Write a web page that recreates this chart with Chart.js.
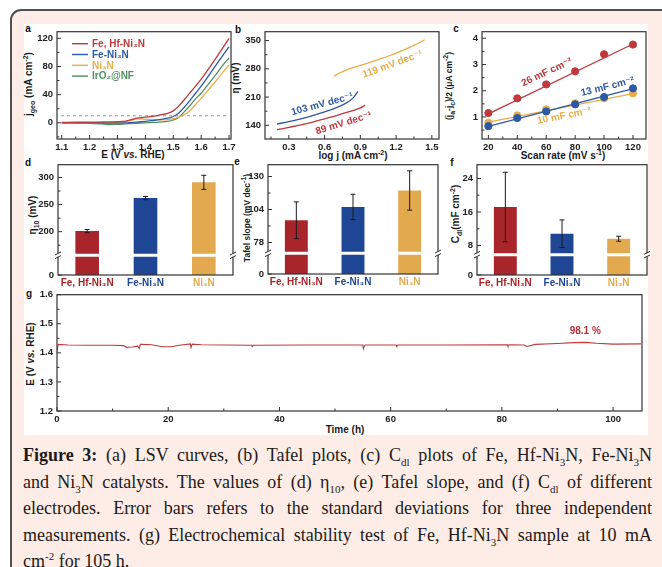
<!DOCTYPE html>
<html><head><meta charset="utf-8">
<script src="https://cdn.jsdelivr.net/npm/chart.js@4.4.1/dist/chart.umd.min.js"></script>
<style>
html,body{margin:0;padding:0;width:662px;height:567px;overflow:hidden;background:#fff;position:relative;}
#frame{position:absolute;left:10px;top:9px;width:720px;height:640px;border:2px solid #505050;border-radius:11px;background:#fdede6;box-sizing:border-box;}
#fig{position:absolute;left:24px;top:24px;width:624px;height:411px;background:#fff;}
canvas{position:absolute;}
.lbl{position:absolute;font:bold 10px "Liberation Sans",Arial,sans-serif;color:#1a1a1a;transform:translate(-50%,-50%);white-space:nowrap;line-height:12px;}
.rot{transform:translate(-50%,-50%) rotate(-90deg);}
.lbl sub,.lbl sup{font-size:7px;line-height:0;}
.sm{font-size:8.5px;}
.pl{position:absolute;font:bold 10px "Liberation Sans",Arial,sans-serif;color:#111;transform:translate(-50%,-50%);}
#cap{position:absolute;left:23px;top:442px;width:629px;font-family:"Liberation Serif","Times New Roman",serif;font-size:18px;color:#1d1a1b;}
#cap div{height:26.5px;line-height:26.5px;text-align:justify;text-align-last:justify;white-space:nowrap;}
#cap div.last{text-align-last:left;}
#cap sub,#cap sup{font-size:11px;line-height:0;}
</style>
</head><body>
<div id="frame"></div>
<div id="fig"></div>

<div class="pl" style="left:28px;top:28px">a</div>
<div class="pl" style="left:238px;top:29px">b</div>
<div class="pl" style="left:456px;top:28px">c</div>
<div class="pl" style="left:28px;top:162px">d</div>
<div class="pl" style="left:237px;top:161px">e</div>
<div class="pl" style="left:452px;top:162px">f</div>
<div class="pl" style="left:29px;top:293px">g</div>

<div class="lbl rot" style="left:29px;top:84px">j<sub>geo</sub> (mA cm<sup>-2</sup>)</div>
<div class="lbl" style="left:133px;top:155px">E (V <i>vs.</i> RHE)</div>
<div class="lbl rot" style="left:236px;top:78px">η (mV)</div>
<div class="lbl" style="left:353px;top:156px">log j (mA cm<sup>-2</sup>)</div>
<div class="lbl rot sm" style="left:449px;top:86px">(j<sub>a</sub>-j<sub>c</sub>)/2 (μA cm<sup>-2</sup>)</div>
<div class="lbl" style="left:563px;top:156px">Scan rate (mV s<sup>-1</sup>)</div>
<div class="lbl rot" style="left:33px;top:215px">η<sub>10</sub> (mV)</div>
<div class="lbl rot sm" style="left:247px;top:218px">Tafel slope (mV dec<sup>-1</sup>)</div>
<div class="lbl rot" style="left:456px;top:214px">C<sub>dl</sub>(mF cm<sup>-2</sup>)</div>
<div class="lbl rot" style="left:31px;top:354px">E (V <i>vs.</i> RHE)</div>
<div class="lbl" style="left:345px;top:430px">Time (h)</div>

<div id="cap">
<div><b>Figure 3:</b> (a) LSV curves, (b) Tafel plots, (c) C<sub>dl</sub> plots of Fe, Hf-Ni<sub>3</sub>N, Fe-Ni<sub>3</sub>N</div>
<div>and Ni<sub>3</sub>N catalysts. The values of (d) η<sub>10</sub>, (e) Tafel slope, and (f) C<sub>dl</sub> of different</div>
<div>electrodes. Error bars refers to the standard deviations for three independent</div>
<div>measurements. (g) Electrochemical stability test of Fe, Hf-Ni<sub>3</sub>N sample at 10 mA</div>
<div class="last">cm<sup>-2</sup> for 105 h.</div>
</div>

<script>
// ---------- data ----------
const seriesNames = ['Fe, Hf-Ni₃N', 'Fe-Ni₃N', 'Ni₃N', 'IrO₂@NF'];
const barNames = ['Fe, Hf-Ni₃N', 'Fe-Ni₃N', 'Ni₃N'];

// (a) LSV
const lsvE      = [1.10,1.15,1.20,1.25,1.27,1.30,1.33,1.35,1.37,1.40,1.43,1.45,1.48,1.50,1.52,1.55,1.58,1.60,1.62,1.65,1.68,1.70];
const lsvFeHf   = [0.5,0.8,1.0,1.2,1.3,1.6,2.5,4.5,6.5,8.0,9.5,11,13.5,17,24,38,52,62,73,90,108,120];
const lsvFe     = [0,0,0,-0.3,-0.5,-0.5,0,0.5,1,2,3.5,4.5,6.5,9,14,27,42,52,63,80,97,108];
const lsvNi     = [0,0,0,0,0,0.3,1.5,3.5,5.5,5,4.5,4.2,4.5,6,8,14,26,35,44,58,73,82];
const lsvIr     = [0,-0.2,-0.6,-1.8,-2.5,-2.2,-1.5,-1,-0.6,0,0.5,1,2,4,8,20,34,42,52,67,83,92];
const lsvRef    = 10;
const lsvTicksX = [1.1,1.2,1.3,1.4,1.5,1.6,1.7];
const lsvTicksY = [0,40,80,120];

// (b) Tafel
const tafFeHfX = [0.20,0.30,0.40,0.50,0.60,0.70,0.80,0.90,0.94];
const tafFeHfY = [129,135,141,148,156,164,173,183,190];
const tafFeX   = [0.20,0.30,0.40,0.50,0.60,0.70,0.78,0.84,0.88];
const tafFeY   = [143,149,156,164,173,184,195,208,224];
const tafNiX   = [0.68,0.72,0.78,0.85,0.95,1.05,1.15,1.25,1.35,1.44];
const tafNiY   = [261,269,277,284,293,303,313,325,338,352];
const tafTicksX = [0.3,0.6,0.9,1.2,1.5];
const tafTicksY = [140,210,280,350];
const tafNotes = [
  {x:0.58, y:192, t:'103 mV dec⁻¹', s:1, r:-15},
  {x:0.76, y:145, t:'89 mV dec⁻¹',  s:0, r:-17},
  {x:1.17, y:291, t:'119 mV dec⁻¹', s:2, r:-20}
];

// (c) Cdl
const scanRate = [20,40,60,80,100,120];
const cdlFeHf  = [1.15,1.71,2.24,2.74,3.39,3.76];
const cdlFe    = [0.65,0.96,1.21,1.48,1.76,2.09];
const cdlNi    = [0.78,1.06,1.29,1.52,1.71,1.90];
const cdlFitX     = [20,120];
const cdlFitFeHf  = [1.12,3.78];
const cdlFitFe    = [0.64,2.08];
const cdlFitNi    = [0.80,1.89];
const cdlTicksX = [20,40,60,80,100,120];
const cdlTicksY = [1,2,3,4];
const cdlNotes = [
  {x:60.4, y:2.70, t:'26 mF cm⁻²', s:0, r:-25},
  {x:102.4, y:2.15, t:'13 mF cm⁻²', s:1, r:-14},
  {x:72.4, y:1.04, t:'10 mF cm⁻²', s:2, r:-11}
];

// (d) eta10, (e) Tafel slope, (f) Cdl  (value, std)
const eta10     = [201, 262, 291];
const eta10Err  = [3, 3, 13];
const eta10Ticks = [200,250,300];
const tafel     = [95.5, 106, 119];
const tafelErr  = [14.5, 10, 15.5];
const tafelTicks = [78,104,130];
const cdl       = [17.2, 10.8, 9.6];
const cdlErr    = [8.3, 3.3, 0.6];
const cdlTicks  = [8,16,24];

// (g) stability
const stabT = [0,0.2,2,6,10,12,12.5,13.5,14.5,14.8,15.0,15.3,17,19,20.5,22,24,24.1,24.3,26,30,35,35.1,35.3,45,55,55.1,55.3,55.5,61,61.1,61.3,70,81,81.1,81.3,84,84.5,86,90,93,95,97,100,105];
const stabE = [1.405,1.429,1.427,1.426,1.426,1.425,1.419,1.42,1.423,1.415,1.43,1.429,1.428,1.421,1.421,1.426,1.431,1.418,1.43,1.428,1.427,1.426,1.422,1.426,1.427,1.427,1.414,1.425,1.427,1.427,1.423,1.427,1.427,1.428,1.423,1.428,1.427,1.422,1.429,1.432,1.435,1.436,1.433,1.43,1.431];
const stabTicksX = [0,20,40,60,80,100];
const stabTicksY = [1.2,1.3,1.4,1.5,1.6];
const stabNote = {x:95, y:1.476, t:'98.1 %'};

// ---------- styles ----------
const FONT = '"Liberation Sans", Arial, "DejaVu Sans", sans-serif';
const lineColors = ['#c0383c', '#2c58a8', '#e9ad48', '#4e9162'];
const barColors  = ['#a8262b', '#1f4694', '#e3a94f'];
Chart.defaults.font.family = FONT;
Chart.defaults.color = '#222';

const YW = 40, XH = 22, PT = 8, PR = 12;

function minors(vals, min, max) {
  const out = [];
  if (vals.length < 2) return out;
  const st = vals[1] - vals[0];
  for (let v = vals[0] - st / 2; v <= max + 1e-9; v += st) if (v >= min - 1e-9) out.push(v);
  return out;
}

const deco = {
  id: 'deco',
  beforeDatasetsDraw(chart) {
    const o = chart.options.plugins.deco || {};
    if (o.hline === undefined) return;
    const {ctx, chartArea: a} = chart;
    const y = chart.scales.y.getPixelForValue(o.hline);
    ctx.save();
    ctx.strokeStyle = '#9a9a9a'; ctx.lineWidth = 1; ctx.setLineDash([3, 3]);
    ctx.beginPath(); ctx.moveTo(a.left + 4, y); ctx.lineTo(a.right - 2, y); ctx.stroke();
    ctx.restore();
  },
  afterDraw(chart) {
    const o = chart.options.plugins.deco || {};
    const {ctx, chartArea: a} = chart;
    const sx = chart.scales.x, sy = chart.scales.y;
    ctx.save();
    // frame
    ctx.strokeStyle = '#333'; ctx.lineWidth = 1.2;
    ctx.strokeRect(a.left, a.top, a.right - a.left, a.bottom - a.top);
    ctx.lineWidth = 1;
    // x ticks
    if (sx.type === 'linear') {
      const v = sx.ticks.map(t => t.value);
      ctx.beginPath();
      v.forEach(val => { const p = sx.getPixelForValue(val); ctx.moveTo(p, a.bottom); ctx.lineTo(p, a.bottom - 4); });
      minors(v, sx.min, sx.max).forEach(val => { const p = sx.getPixelForValue(val); ctx.moveTo(p, a.bottom); ctx.lineTo(p, a.bottom - 2.5); });
      ctx.stroke();
    }
    // y ticks
    {
      let v = sy.ticks.map(t => t.value);
      ctx.beginPath();
      v.forEach(val => { const p = sy.getPixelForValue(val); ctx.moveTo(a.left, p); ctx.lineTo(a.left + 4, p); });
      const mv = o.brk !== undefined ? v.slice(1) : v;
      minors(mv, o.brk !== undefined ? o.brk : sy.min, sy.max).forEach(val => { const p = sy.getPixelForValue(val); ctx.moveTo(a.left, p); ctx.lineTo(a.left + 2.5, p); });
      ctx.stroke();
    }
    // axis break
    if (o.brk !== undefined) {
      const yb = sy.getPixelForValue(o.brk);
      ctx.strokeStyle = '#fff'; ctx.lineWidth = 3;
      ctx.beginPath(); ctx.moveTo(a.left - 4, yb); ctx.lineTo(a.right + 4, yb); ctx.stroke();
      ctx.strokeStyle = '#333'; ctx.lineWidth = 1;
      [a.left, a.right].forEach(x0 => {
        [-1.8, 1.8].forEach(dy => {
          ctx.beginPath(); ctx.moveTo(x0 - 3, yb + dy + 1.5); ctx.lineTo(x0 + 3, yb + dy - 1.5); ctx.stroke();
        });
      });
    }
    // error bars
    if (o.err) {
      const meta = chart.getDatasetMeta(0);
      const vals = chart.data.datasets[0].data;
      ctx.strokeStyle = '#1a1a1a'; ctx.lineWidth = 1;
      meta.data.forEach((el, i) => {
        const y1 = sy.getPixelForValue(vals[i] + o.err[i]), y2 = sy.getPixelForValue(vals[i] - o.err[i]);
        ctx.beginPath();
        ctx.moveTo(el.x, y1); ctx.lineTo(el.x, y2);
        ctx.moveTo(el.x - 2.5, y1); ctx.lineTo(el.x + 2.5, y1);
        ctx.moveTo(el.x - 2.5, y2); ctx.lineTo(el.x + 2.5, y2);
        ctx.stroke();
      });
    }
    // text notes
    if (o.notes) {
      ctx.font = 'bold 10px ' + FONT;
      ctx.textAlign = 'center'; ctx.textBaseline = 'middle';
      o.notes.forEach(n => {
        ctx.save();
        ctx.translate(sx.getPixelForValue(n.x), sy.getPixelForValue(n.y));
        ctx.rotate((n.r || 0) * Math.PI / 180);
        ctx.fillStyle = n.c;
        ctx.fillText(n.t, 0, 0);
        ctx.restore();
      });
    }
    // legend
    if (o.legend) {
      ctx.font = 'bold 10px ' + FONT;
      ctx.textAlign = 'left'; ctx.textBaseline = 'middle';
      o.legend.forEach((it, i) => {
        const y = a.top + 12 + i * 10.8;
        ctx.strokeStyle = it.c; ctx.lineWidth = 1.4;
        ctx.beginPath(); ctx.moveTo(a.left + 15, y); ctx.lineTo(a.left + 31, y); ctx.stroke();
        ctx.fillStyle = it.c; ctx.fillText(it.t, a.left + 35, y + 0.5);
      });
    }
    ctx.restore();
  }
};
Chart.register(deco);

function mk(box, cfg) {
  const c = document.createElement('canvas');
  const w = box.r - box.l + YW + PR, h = box.b - box.t + PT + XH;
  c.width = w; c.height = h;
  c.style.left = (box.l - YW) + 'px'; c.style.top = (box.t - PT) + 'px';
  c.style.width = w + 'px'; c.style.height = h + 'px';
  document.body.appendChild(c);
  const base = {
    responsive: false, animation: false, maintainAspectRatio: false,
    layout: {padding: {left: 0, top: PT, right: PR, bottom: 0}},
  };
  cfg.options = Object.assign(base, cfg.options);
  cfg.options.plugins = Object.assign({legend: {display: false}, tooltip: {enabled: false}}, cfg.options.plugins || {});
  return new Chart(c, cfg);
}

function linAxis(min, max, ticks, fmt, isX, size) {
  return {
    type: 'linear', min, max,
    afterBuildTicks: s => { s.ticks = ticks.map(v => ({value: v})); },
    afterFit: s => { if (isX) s.height = XH; else s.width = YW; },
    grid: {display: false, drawTicks: false}, border: {display: false},
    ticks: {font: {size: size || 9.5, weight: 'bold'}, color: '#222', padding: isX ? 3 : 4, autoSkip: false, maxRotation: 0, callback: fmt}
  };
}
function xy(xs, ys) { return xs.map((x, i) => ({x, y: ys[i]})); }

// (a)
mk({l: 57, t: 30, r: 231, b: 139}, {
  type: 'line',
  data: {datasets: [lsvFeHf, lsvFe, lsvNi, lsvIr].map((d, i) => ({
    data: xy(lsvE, d), borderColor: lineColors[i], borderWidth: 1.3, pointRadius: 0, tension: 0.35, fill: false
  }))},
  options: {
    scales: {
      x: linAxis(1.083, 1.707, lsvTicksX, v => v.toFixed(1), true),
      y: linAxis(-23, 129.4, lsvTicksY, v => String(v), false)
    },
    plugins: {deco: {hline: lsvRef, legend: seriesNames.map((t, i) => ({t, c: lineColors[i]}))}}
  }
});

// (b)
mk({l: 265, t: 30, r: 439, b: 139}, {
  type: 'line',
  data: {datasets: [[tafFeHfX, tafFeHfY], [tafFeX, tafFeY], [tafNiX, tafNiY]].map((d, i) => ({
    data: xy(d[0], d[1]), borderColor: lineColors[i], borderWidth: 1.3, pointRadius: 0, tension: 0.35, fill: false
  }))},
  options: {
    scales: {
      x: linAxis(0.1, 1.56, tafTicksX, v => v.toFixed(1), true),
      y: linAxis(106, 372, tafTicksY, v => String(v), false)
    },
    plugins: {deco: {notes: tafNotes.map(n => Object.assign({c: lineColors[n.s]}, n))}}
  }
});

// (c)
mk({l: 482, t: 30, r: 646, b: 139}, {
  type: 'line',
  data: {datasets: [
    ...[cdlFeHf, cdlFe, cdlNi].map((d, i) => ({
      data: xy(scanRate, d), showLine: false, pointRadius: 3.6, pointBackgroundColor: lineColors[i], pointBorderColor: lineColors[i], borderColor: lineColors[i]
    })),
    ...[cdlFitFeHf, cdlFitFe, cdlFitNi].map((d, i) => ({
      data: xy(cdlFitX, d), borderColor: lineColors[i], borderWidth: 1.3, pointRadius: 0, fill: false
    }))
  ]},
  options: {
    scales: {
      x: linAxis(15.6, 129, cdlTicksX, v => String(v), true),
      y: linAxis(0.16, 4.25, cdlTicksY, v => String(v), false)
    },
    plugins: {deco: {notes: cdlNotes.map(n => Object.assign({c: lineColors[n.s]}, n))}}
  }
});

// bar panels
function barPanel(box, vals, errs, ticks, min, max, brk) {
  const allTicks = [min].concat(ticks);
  mk(box, {
    type: 'bar',
    data: {labels: barNames, datasets: [{data: vals, backgroundColor: barColors, borderWidth: 0, barPercentage: 0.45, categoryPercentage: 0.9}]},
    options: {
      scales: {
        x: {
          type: 'category',
          afterFit: s => { s.height = XH; },
          grid: {display: false, drawTicks: false}, border: {display: false},
          ticks: {font: {size: 10, weight: 'bold'}, padding: 2, autoSkip: false, maxRotation: 0, color: c => barColors[c.index]}
        },
        y: linAxis(min, max, allTicks, v => (v === min ? '0' : String(v)), false)
      },
      plugins: {deco: {err: errs, brk: brk}}
    }
  });
}
barPanel({l: 58, t: 163, r: 233, b: 275}, eta10, eta10Err, eta10Ticks, 120, 323.6, 156.4);
barPanel({l: 268, t: 163, r: 438, b: 274}, tafel, tafelErr, tafelTicks, 53.2, 139.3, 69.5);
barPanel({l: 477, t: 163, r: 647, b: 275}, cdl, cdlErr, cdlTicks, 0.94, 27.3, 5.8);

// (g)
mk({l: 57, t: 293, r: 642, b: 411}, {
  type: 'line',
  data: {datasets: [{data: xy(stabT, stabE), borderColor: '#c0393d', borderWidth: 1.1, pointRadius: 0, tension: 0, fill: false}]},
  options: {
    scales: {
      x: linAxis(0, 105.2, stabTicksX, v => String(v), true),
      y: linAxis(1.2, 1.6, stabTicksY, v => v.toFixed(1), false)
    },
    plugins: {deco: {notes: [Object.assign({c: '#b8323a', r: 0}, stabNote)]}}
  }
});
</script>
</body></html>
